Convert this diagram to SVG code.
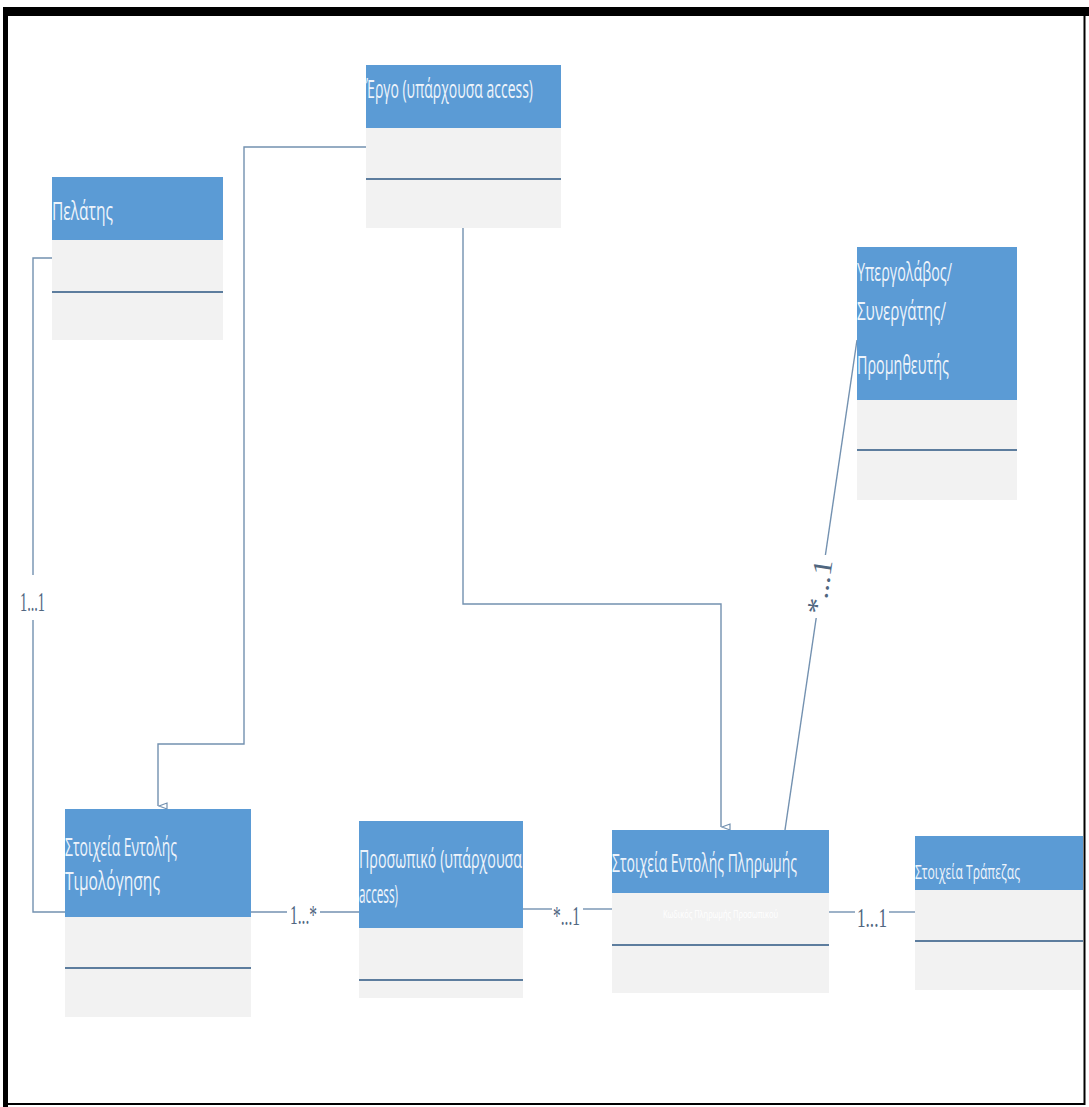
<svg xmlns="http://www.w3.org/2000/svg" width="1089" height="1107" viewBox="0 0 1089 1107">
  <style>
    .hdr { fill: #5b9bd5; }
    .body { fill: #f2f2f2; }
    .div { stroke: #5d7d9e; stroke-width: 2; }
    .title { font-family: "Open Sans", "Noto Sans", sans-serif; font-size: 26px; fill: #eef4fb; }
    .small { font-family: "Open Sans", "Noto Sans", sans-serif; font-size: 10px; fill: #ffffff; }
    .conn { fill: none; stroke: #7391b0; stroke-width: 1.4; }
    .mult { font-family: "Liberation Serif", "DejaVu Serif", serif; font-size: 27px; fill: #50667f; }
  </style>
  <defs>
    <marker id="openArrow" viewBox="0 0 8 10" refX="4" refY="10" markerWidth="8" markerHeight="10" markerUnits="userSpaceOnUse" orient="auto-start-reverse">
      <path d="M1,1 L7,1 L4,9 Z" fill="#ffffff" stroke="#7391b0" stroke-width="1.2"/>
    </marker>
  </defs>

  <rect x="0" y="0" width="1089" height="1107" fill="#ffffff"/>

  <!-- page frame -->
  <g id="frame">
    <rect x="3" y="7" width="1086" height="9" fill="#000000"/>
    <rect x="3" y="7" width="5" height="1100" fill="#000000"/>
    <line x1="1084.5" y1="7" x2="1084.5" y2="1105" stroke="#000000" stroke-width="2"/>
    <line x1="3" y1="1104" x2="1085" y2="1104" stroke="#000000" stroke-width="2"/>
  </g>

  <!-- connectors (labels use a narrow horizontal scale) -->
  <g id="connectors">
    <!-- Πελάτης to Τιμολόγηση -->
    <polyline class="conn" points="52,258 33,258 33,575"/>
    <polyline class="conn" points="33,620 33,912 65,912"/>
    <text class="mult" transform="translate(20,611) scale(0.55,1)" textLength="45.5" lengthAdjust="spacingAndGlyphs">1...1</text>

    <!-- Έργο to Τιμολόγηση -->
    <polyline class="conn" points="366,147 244,147 244,744 158,744 158,806" marker-end="url(#openArrow)"/>

    <!-- Έργο to Πληρωμή -->
    <polyline class="conn" points="463,228 463,604 721,604 721,827" marker-end="url(#openArrow)"/>

    <!-- Τιμολόγηση to Προσωπικό -->
    <line class="conn" x1="251" y1="912" x2="287" y2="912"/>
    <line class="conn" x1="320" y1="912" x2="359" y2="912"/>
    <text class="mult" transform="translate(290,924) scale(0.55,1)" textLength="49" lengthAdjust="spacingAndGlyphs">1...*</text>

    <!-- Προσωπικό to Πληρωμή -->
    <line class="conn" x1="523" y1="909" x2="552" y2="909"/>
    <line class="conn" x1="583" y1="909" x2="612" y2="909"/>
    <text class="mult" transform="translate(553,925) scale(0.55,1)" textLength="49" lengthAdjust="spacingAndGlyphs">*...1</text>

    <!-- Πληρωμή to Τράπεζα -->
    <line class="conn" x1="829" y1="912" x2="855" y2="912"/>
    <line class="conn" x1="889" y1="912" x2="915" y2="912"/>
    <text class="mult" transform="translate(857,927) scale(0.55,1)" textLength="54.5" lengthAdjust="spacingAndGlyphs">1...1</text>

    <!-- Υπεργολάβος to Πληρωμή -->
    <line class="conn" x1="857" y1="340" x2="825.4" y2="555"/>
    <line class="conn" x1="816.2" y1="618" x2="785" y2="830"/>
    <text class="mult" transform="translate(820.7,587) rotate(-81.6)" x="0" y="8" text-anchor="middle" textLength="55" lengthAdjust="spacingAndGlyphs">*...1</text>
  </g>

  <!-- Έργο -->
  <g id="node-ergo">
    <rect class="body" x="366" y="128" width="195" height="100"/>
    <rect class="hdr" x="366" y="65" width="195" height="63"/>
    <line class="div" x1="366" y1="179" x2="561" y2="179"/>
    <text class="title" transform="translate(366,98) scale(0.55,1)" textLength="303.6" lengthAdjust="spacingAndGlyphs">Έργο (υπάρχουσα access)</text>
  </g>

  <!-- Πελάτης -->
  <g id="node-pelatis">
    <rect class="body" x="52" y="240" width="171" height="100"/>
    <rect class="hdr" x="52" y="177" width="171" height="63"/>
    <line class="div" x1="52" y1="292" x2="223" y2="292"/>
    <text class="title" transform="translate(52,220) scale(0.55,1)" textLength="110.9" lengthAdjust="spacingAndGlyphs">Πελάτης</text>
  </g>

  <!-- Υπεργολάβος / Συνεργάτης / Προμηθευτής -->
  <g id="node-ypergolavos">
    <rect class="body" x="857" y="400" width="160" height="100"/>
    <rect class="hdr" x="857" y="247" width="160" height="153"/>
    <line class="div" x1="857" y1="450" x2="1017" y2="450"/>
    <text class="title" transform="translate(857,281) scale(0.55,1)" textLength="172.7" lengthAdjust="spacingAndGlyphs">Υπεργολάβος/</text>
    <text class="title" transform="translate(857,320) scale(0.55,1)" textLength="161.8" lengthAdjust="spacingAndGlyphs">Συνεργάτης/</text>
    <text class="title" transform="translate(857,374) scale(0.55,1)" textLength="167.3" lengthAdjust="spacingAndGlyphs">Προμηθευτής</text>
  </g>

  <!-- Στοιχεία Εντολής Τιμολόγησης -->
  <g id="node-timologisi">
    <rect class="body" x="65" y="917" width="186" height="100"/>
    <rect class="hdr" x="65" y="809" width="186" height="108"/>
    <line class="div" x1="65" y1="968" x2="251" y2="968"/>
    <text class="title" transform="translate(65,856) scale(0.55,1)" textLength="203.6" lengthAdjust="spacingAndGlyphs">Στοιχεία Εντολής</text>
    <text class="title" transform="translate(65,890) scale(0.55,1)" textLength="172.7" lengthAdjust="spacingAndGlyphs">Τιμολόγησης</text>
  </g>

  <!-- Προσωπικό -->
  <g id="node-prosopiko">
    <rect class="body" x="359" y="928" width="164" height="70"/>
    <rect class="hdr" x="359" y="821" width="164" height="107"/>
    <line class="div" x1="359" y1="980" x2="523" y2="980"/>
    <text class="title" transform="translate(359,868) scale(0.55,1)" textLength="296.4" lengthAdjust="spacingAndGlyphs">Προσωπικό (υπάρχουσα</text>
    <text class="title" transform="translate(359,903) scale(0.55,1)" textLength="70.9" lengthAdjust="spacingAndGlyphs">access)</text>
  </g>

  <!-- Στοιχεία Εντολής Πληρωμής -->
  <g id="node-pliromi">
    <rect class="body" x="612" y="893" width="217" height="100"/>
    <rect class="hdr" x="612" y="830" width="217" height="63"/>
    <line class="div" x1="612" y1="945" x2="829" y2="945"/>
    <text class="title" transform="translate(612,872) scale(0.55,1)" textLength="336.4" lengthAdjust="spacingAndGlyphs">Στοιχεία Εντολής Πληρωμής</text>
    <text class="small" transform="translate(663,918) scale(0.55,1)" textLength="209" lengthAdjust="spacingAndGlyphs">Κωδικός Πληρωμής Προσωπικού</text>
  </g>

  <!-- Στοιχεία Τράπεζας -->
  <g id="node-trapeza">
    <rect class="body" x="915" y="890" width="168" height="100"/>
    <rect class="hdr" x="915" y="836" width="168" height="54"/>
    <line class="div" x1="915" y1="941" x2="1083" y2="941"/>
    <text class="title" transform="translate(915,879) scale(0.55,1)" style="font-size:20px" textLength="190.9" lengthAdjust="spacingAndGlyphs">Στοιχεία Τράπεζας</text>
  </g>
</svg>
